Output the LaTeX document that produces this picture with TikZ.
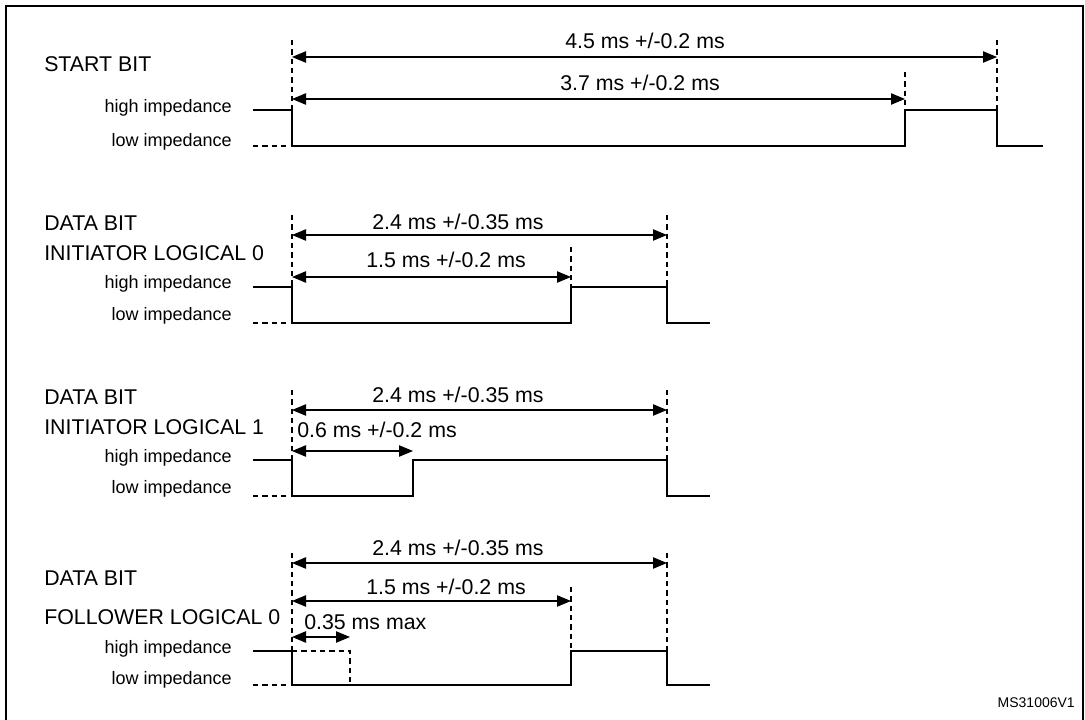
\documentclass[tikz,border=0pt]{standalone}
\usepackage{fontspec}
\setmainfont{Liberation Sans}
\usetikzlibrary{arrows.meta}
\begin{document}
\begin{tikzpicture}[x=0.75pt,y=-0.75pt,
  sig/.style={line width=0.9pt},
  dsh/.style={line width=0.8pt,dash pattern=on 4pt off 3pt},
  dim/.style={line width=0.9pt,{Triangle[length=10.5pt,width=8.5pt]}-{Triangle[length=10.5pt,width=8.5pt]}},
  lab/.style={font=\fontsize{16}{18}\selectfont,inner sep=0pt},
  ttl/.style={font=\fontsize{16}{18}\selectfont,inner sep=0pt,anchor=west},
  imp/.style={font=\fontsize{13.5}{15}\selectfont,inner sep=0pt,anchor=east}]
\useasboundingbox (0,0) rectangle (1085,720);
\draw[line width=1.3pt] (6,722) -- (6,6) -- (1083,6) -- (1083,722);
% ---------- section 1
\node[ttl] (t1) at (44,64) {START BIT};
\node[imp] (h1) at (232,108) {high impedance};
\node[imp] (l1) at (232,142) {low impedance};
\coordinate (a1) at (292,57); \coordinate (b1) at (997,57);
\coordinate (a2) at (292,99); \coordinate (b2) at (905,99);
\draw[sig] (253,110) -- (292,110) -- (292,146) -- (905,146) -- (905,110) -- (997,110) -- (997,146) -- (1043,146);
\draw[dsh] (253,146) -- (290,146);
\draw[dsh] (292,40) -- (292,110);
\draw[dsh] (905,72) -- (905,110);
\draw[dsh] (997,40) -- (997,110);
\draw[dim] (a1) -- (b1);
\draw[dim] (a2) -- (b2);
\node[lab] (m1) at (645,41) {4.5 ms +/-0.2 ms};
\node[lab] (m2) at (640,83) {3.7 ms +/-0.2 ms};
% ---------- section 2
\node[ttl] (t2) at (44,223) {DATA BIT};
\node[ttl] (t2b) at (44,253) {INITIATOR LOGICAL 0};
\node[imp] (h2) at (232,284) {high impedance};
\node[imp] (l2) at (232,316) {low impedance};
\coordinate (a3) at (292,235); \coordinate (b3) at (667,235);
\coordinate (a4) at (292,277); \coordinate (b4) at (571,277);
\draw[sig] (253,287) -- (292,287) -- (292,323) -- (571,323) -- (571,287) -- (667,287) -- (667,323) -- (710,323);
\draw[dsh] (253,323) -- (290,323);
\draw[dsh] (292,215) -- (292,287);
\draw[dsh] (571,247) -- (571,287);
\draw[dsh] (667,215) -- (667,287);
\draw[dim] (a3) -- (b3);
\draw[dim] (a4) -- (b4);
\node[lab] (m3) at (458,222) {2.4 ms +/-0.35 ms};
\node[lab] (m4) at (446,260) {1.5 ms +/-0.2 ms};
% ---------- section 3
\node[ttl] (t3) at (44,397) {DATA BIT};
\node[ttl] (t3b) at (44,427) {INITIATOR LOGICAL 1};
\node[imp] (h3) at (232,458) {high impedance};
\node[imp] (l3) at (232,489) {low impedance};
\coordinate (a5) at (292,410); \coordinate (b5) at (667,410);
\coordinate (a6) at (292,451); \coordinate (b6) at (413,451);
\draw[sig] (253,460) -- (292,460) -- (292,496) -- (413,496) -- (413,460) -- (667,460) -- (667,496) -- (710,496);
\draw[dsh] (253,496) -- (290,496);
\draw[dsh] (292,390) -- (292,460);
\draw[dsh] (667,390) -- (667,460);
\draw[dim] (a5) -- (b5);
\draw[dim] (a6) -- (b6);
\node[lab] (m5) at (458,395) {2.4 ms +/-0.35 ms};
\node[lab,anchor=west] (m6) at (297,430) {0.6 ms +/-0.2 ms};
% ---------- section 4
\node[ttl] (t4) at (44,578) {DATA BIT};
\node[ttl] (t4b) at (44,617) {FOLLOWER LOGICAL 0};
\node[imp] (h4) at (232,649) {high impedance};
\node[imp] (l4) at (232,680) {low impedance};
\coordinate (a7) at (292,563); \coordinate (b7) at (667,563);
\coordinate (a8) at (292,601); \coordinate (b8) at (571,601);
\coordinate (a9) at (292,637); \coordinate (b9) at (350,637);
\draw[sig] (253,651) -- (292,651) -- (292,685) -- (571,685) -- (571,651) -- (667,651) -- (667,685) -- (710,685);
\draw[dsh] (253,685) -- (290,685);
\draw[dsh] (292,553) -- (292,651);
\draw[dsh] (571,587) -- (571,651);
\draw[dsh] (667,553) -- (667,651);
\draw[dsh] (292,651) -- (350,651) -- (350,685);
\draw[dim] (a7) -- (b7);
\draw[dim] (a8) -- (b8);
\draw[dim] (a9) -- (b9);
\node[lab] (m7) at (458,548) {2.4 ms +/-0.35 ms};
\node[lab] (m8) at (446,587) {1.5 ms +/-0.2 ms};
\node[lab,anchor=west] (m9) at (304,622) {0.35 ms max};
\node[font=\fontsize{10.5}{12}\selectfont,inner sep=0pt,anchor=east] (id) at (1075,703) {MS31006V1};
\end{tikzpicture}
\end{document}
